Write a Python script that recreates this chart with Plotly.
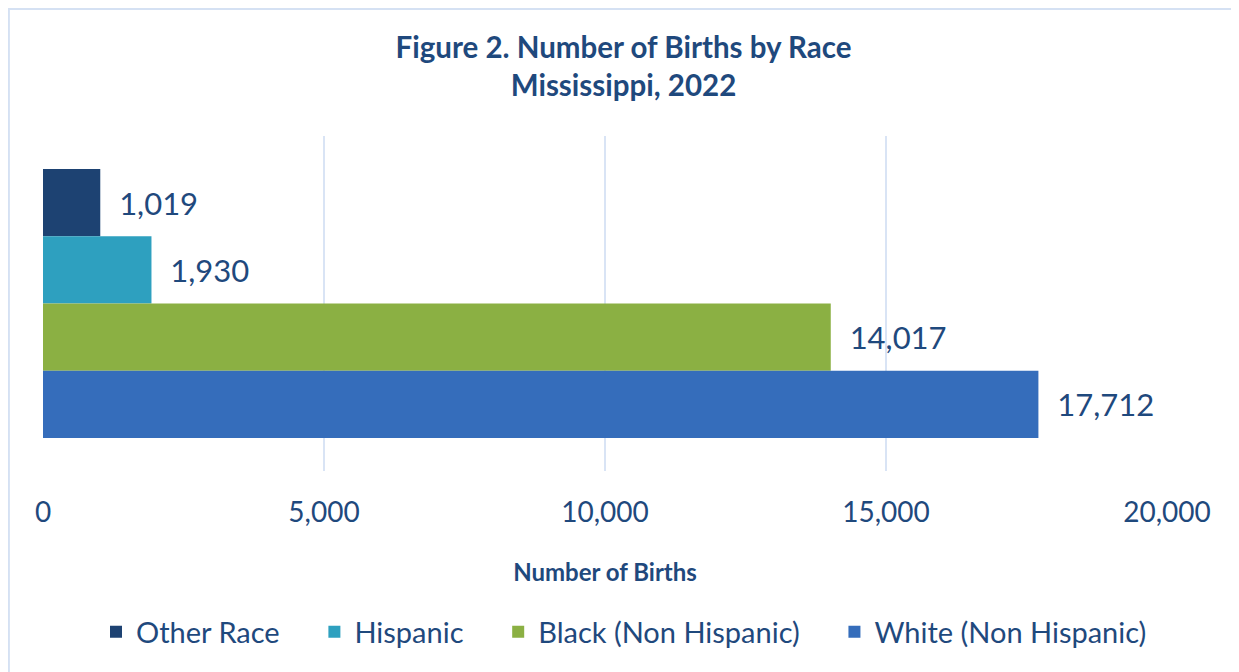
import plotly.graph_objects as go

categories = ["Other Race", "Hispanic", "Black (Non Hispanic)", "White (Non Hispanic)"]
births = [1019, 1930, 14017, 17712]
bar_colors = ["#1d4272", "#2ea0bf", "#8bb043", "#356dbb"]
x_ticks = [0, 5000, 10000, 15000, 20000]
x_tick_labels = ["0", "5,000", "10,000", "15,000", "20,000"]

TEXT = "#1f497d"
FONT = "Lato"
NBSP = "\u00a0"

fig = go.Figure()
for name, val, col in zip(categories, births, bar_colors):
    fig.add_trace(go.Bar(
        x=[val], y=["2022"], name=name + NBSP * 4, orientation="h",
        marker=dict(color=col, line=dict(width=0)),
        texttemplate=NBSP * 2 + "%{x:,}", textposition="outside",
        textfont=dict(family=FONT, size=31, color=TEXT),
        cliponaxis=False,
    ))

# page body has an 8px margin; figure is sized/offset to compensate
W, H = 1231, 664
fig.update_layout(
    width=W, height=H,
    paper_bgcolor="white", plot_bgcolor="white",
    barmode="group", bargap=0.197, bargroupgap=0,
    margin=dict(l=35, r=72, t=128, b=201, autoexpand=False),
    title=dict(text="Figure 2. Number of Births by Race<br>Mississippi, 2022",
               x=0.5, xanchor="center", y=1 - 50 / H, yanchor="middle",
               font=dict(family=FONT, size=29.5, color=TEXT, weight="bold")),
    xaxis=dict(range=[0, 20000], tickvals=x_ticks, ticktext=x_tick_labels,
               showgrid=True, gridcolor="#d9e4f5", gridwidth=2,
               zeroline=False, showline=False, ticks="", automargin=False,
               tickfont=dict(family=FONT, size=28, color=TEXT),
               ticklabelstandoff=22,
               title=dict(text="Number of Births", standoff=37,
                          font=dict(family=FONT, size=24, color=TEXT, weight="bold"))),
    yaxis=dict(autorange="reversed", showticklabels=False, showgrid=False,
               zeroline=False, showline=False, ticks="", automargin=False),
    legend=dict(orientation="h", x=0.5 + 34 / 1124, xanchor="center", y=-0.48,
                yanchor="middle",
                font=dict(family=FONT, size=29, color=TEXT), traceorder="normal"),
    showlegend=True,
    shapes=[dict(type="rect", xref="paper", yref="paper",
                 x0=-35 / 1124 + 0.0008, x1=1.2, y0=-1.0, y1=1 + 127 / 335,
                 line=dict(color="#d5e1f3", width=2), layer="below")],
)
fig.write_html("out.html")
